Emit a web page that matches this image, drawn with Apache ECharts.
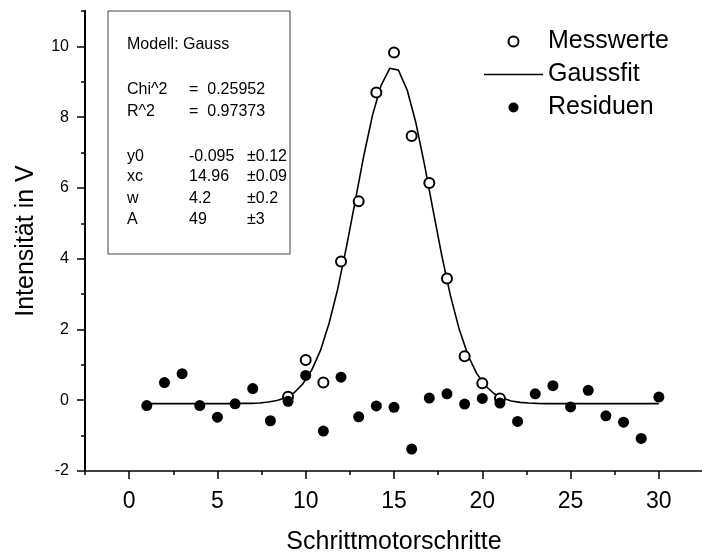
<!DOCTYPE html>
<html>
<head>
<meta charset="utf-8">
<script src="https://cdn.jsdelivr.net/npm/echarts@6/dist/echarts.min.js"></script>
<style>
  html, body { margin: 0; padding: 0; background: #fff; }
  #chart { width: 702px; height: 554px; }
</style>
</head>
<body>
<div id="chart"></div>
<script>
// Messwerte (offene Kreise)
const messX = [9, 10, 11, 12, 13, 14, 15, 16, 17, 18, 19, 20, 21];
const messY = [0.1, 1.14, 0.5, 3.92, 5.62, 8.7, 9.83, 7.47, 6.14, 3.44, 1.24, 0.48, 0.05];

// Residuen (gefüllte Punkte)
const resX = [1, 2, 3, 4, 5, 6, 7, 8, 9, 10, 11, 12, 13, 14, 15, 16, 17, 18, 19, 20, 21, 22, 23, 24, 25, 26, 27, 28, 29, 30];
const resY = [-0.15, 0.5, 0.75, -0.15, -0.48, -0.1, 0.33, -0.58, -0.03, 0.7, -0.87, 0.65, -0.47, -0.16, -0.2, -1.38,
  0.06, 0.18, -0.11, 0.05, -0.08, -0.6, 0.18, 0.41, -0.19, 0.28, -0.44, -0.62, -1.08, 0.09];

// Gaussfit
const fitX = [1.00, 1.49, 1.98, 2.47, 2.97, 3.46, 3.95, 4.44, 4.93, 5.42, 5.92, 6.41, 6.90, 7.39, 7.88, 8.37, 8.86, 9.36,
  9.85, 10.34, 10.83, 11.32, 11.81, 12.31, 12.80, 13.29, 13.78, 14.27, 14.76, 15.25, 15.75, 16.24, 16.73, 17.22, 17.71,
  18.20, 18.69, 19.19, 19.68, 20.17, 20.66, 21.15, 21.64, 22.14, 22.63, 23.12, 23.61, 24.10, 24.59, 25.08, 25.58, 26.07,
  26.56, 27.05, 27.54, 28.03, 28.53, 29.02, 29.51, 30.00];
const fitY = [-0.095, -0.095, -0.095, -0.095, -0.095, -0.095, -0.095, -0.095, -0.095, -0.095, -0.095, -0.09, -0.09,
  -0.08, -0.05, -0.01, 0.07, 0.22, 0.47, 0.85, 1.40, 2.17, 3.14, 4.34, 5.62, 6.91, 8.05, 8.90, 9.38, 9.33, 8.76, 7.84,
  6.65, 5.35, 4.08, 2.95, 2.01, 1.27, 0.76, 0.41, 0.19, 0.06, -0.02, -0.06, -0.08, -0.09, -0.095, -0.095, -0.095,
  -0.095, -0.095, -0.095, -0.095, -0.095, -0.095, -0.095, -0.095, -0.095, -0.095, -0.095];

// Achsen
const xMajor = [0, 5, 10, 15, 20, 25, 30];
const xMinor = [-2.5, 2.5, 7.5, 12.5, 17.5, 22.5, 27.5];
const yMajor = [-2, 0, 2, 4, 6, 8, 10];
const yMinor = [-1, 1, 3, 5, 7, 9, 11];

// Parameter-Box
const boxRows = [
  ['Modell: Gauss', '', ''],
  ['Chi^2', '=  0.25952', ''],
  ['R^2', '=  0.97373', ''],
  ['y0', '-0.095', '±0.12'],
  ['xc', '14.96', '±0.09'],
  ['w', '4.2', '±0.2'],
  ['A', '49', '±3'],
];
const boxRowY = [45, 89.5, 112, 156.5, 177, 198.5, 220];

const FONT = '"Liberation Sans", Arial, Helvetica, sans-serif';
const chart = echarts.init(document.getElementById('chart'));

const boxTexts = [];
boxRows.forEach((r, i) => {
  [[r[0], 127], [r[1], 189], [r[2], 247]].forEach(([t, x]) => {
    if (!t) return;
    boxTexts.push({
      type: 'text', x: x, y: boxRowY[i], z: 10,
      style: { text: t, fill: '#000', font: '16px ' + FONT, verticalAlign: 'middle', align: 'left' },
    });
  });
});

const minorAxis = (extra) => Object.assign({
  type: 'value', gridIndex: 0,
  axisLine: { show: false, onZero: false },
  axisLabel: { show: false },
  splitLine: { show: false },
}, extra);

chart.setOption({
  animation: false,
  textStyle: { fontFamily: FONT },
  grid: { left: 85, top: 11, width: 618, height: 460, containLabel: false, outerBoundsMode: 'none' },
  legend: {
    orient: 'vertical', left: 484, top: 29, padding: 0,
    itemWidth: 59, itemHeight: 10, itemGap: 8,
    textStyle: { fontSize: 25, color: '#000', fontFamily: FONT },
    data: [
      { name: 'Messwerte' },
      { name: 'Gaussfit', icon: 'path://M0,0L59,0L59,1.6L0,1.6Z' },
      { name: 'Residuen' },
    ],
  },
  xAxis: [
    {
      type: 'value', min: -2.5, max: 32.5, position: 'bottom',
      name: 'Schrittmotorschritte', nameLocation: 'middle', nameGap: 59,
      nameTextStyle: { fontSize: 25, color: '#000', fontFamily: FONT },
      axisLine: { onZero: false, lineStyle: { color: '#000', width: 1.5 } },
      axisTick: { inside: false, length: 8, lineStyle: { color: '#000', width: 1.5 }, customValues: xMajor },
      axisLabel: { fontSize: 23, color: '#000', margin: 19, customValues: xMajor },
      splitLine: { show: false },
    },
    minorAxis({ min: -2.5, max: 32.5, position: 'bottom',
      axisTick: { length: 4, lineStyle: { color: '#000', width: 1.5 }, customValues: xMinor } }),
  ],
  yAxis: [
    {
      type: 'value', min: -2, max: 11, position: 'left',
      name: 'Intensität in V', nameLocation: 'middle', nameGap: 46,
      nameTextStyle: { fontSize: 25, color: '#000', fontFamily: FONT },
      axisLine: { onZero: false, lineStyle: { color: '#000', width: 2 } },
      axisTick: { inside: false, length: 8, lineStyle: { color: '#000', width: 1.5 }, customValues: yMajor },
      axisLabel: { fontSize: 16, color: '#000', margin: 16, customValues: yMajor },
      splitLine: { show: false },
    },
    minorAxis({ min: -2, max: 11, position: 'left',
      axisTick: { length: 4, lineStyle: { color: '#000', width: 1.5 }, customValues: yMinor } }),
  ],
  series: [
    {
      name: 'Messwerte', type: 'scatter', z: 3,
      symbol: 'emptyCircle', symbolSize: 10,
      itemStyle: { color: '#000', borderColor: '#000', borderWidth: 1, opacity: 1 },
      data: messX.map((x, i) => [x, messY[i]]),
    },
    {
      name: 'Gaussfit', type: 'line', z: 2,
      symbol: 'none', smooth: false,
      lineStyle: { color: '#000', width: 1.6 },
      itemStyle: { color: '#000' },
      data: fitX.map((x, i) => [x, fitY[i]]),
    },
    {
      name: 'Residuen', type: 'scatter', z: 4,
      symbol: 'circle', symbolSize: 11,
      itemStyle: { color: '#000', opacity: 1 },
      data: resX.map((x, i) => [x, resY[i]]),
    },
  ],
  graphic: [
    {
      type: 'rect', z: 9,
      shape: { x: 108, y: 11, width: 182, height: 243 },
      style: { fill: 'none', stroke: '#444', lineWidth: 1 },
    },
    ...boxTexts,
  ],
});
</script>
</body>
</html>
